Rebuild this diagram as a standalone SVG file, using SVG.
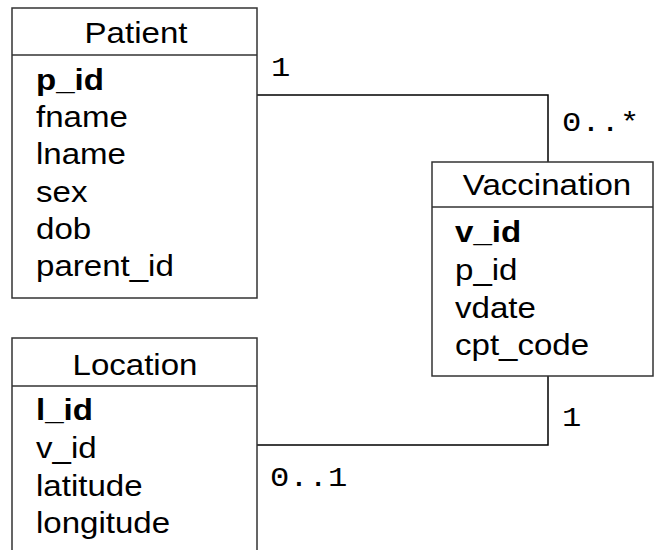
<svg xmlns="http://www.w3.org/2000/svg" width="655" height="550" viewBox="0 0 655 550">
  <style>
    .box { fill: #ffffff; stroke: #333333; stroke-width: 1.5; }
    .sep { stroke: #333333; stroke-width: 1.5; }
    .title { font-family: "Liberation Sans", Arial, sans-serif; font-size: 29px; fill: #000; text-anchor: middle; }
    .attr { font-family: "Liberation Sans", Arial, sans-serif; font-size: 29px; fill: #000; }
    .key { font-weight: bold; }
    .link { fill: none; stroke: #000000; stroke-width: 1.5; }
    .mult { font-family: "Liberation Mono", "Courier New", monospace; font-size: 28px; fill: #000; }
  </style>
  <rect width="655" height="550" fill="#ffffff"/>

  <!-- associations -->
  <g id="connectors">
    <polyline class="link" points="257,95 548,95 548,162"/>
    <polyline class="link" points="548,376 548,445 257,445"/>
    <text class="mult" transform="translate(271,76) scale(1.15,1)">1</text>
    <text class="mult" transform="translate(562,131) scale(1.15,1)">0..*</text>
    <text class="mult" transform="translate(562,426) scale(1.15,1)">1</text>
    <text class="mult" transform="translate(270,486) scale(1.15,1)">0..1</text>
  </g>

  <!-- Patient table -->
  <g id="patient">
    <rect class="box" x="12" y="8" width="245" height="290"/>
    <line class="sep" x1="12" y1="55" x2="257" y2="55"/>
    <text class="title" transform="translate(136,43) scale(1.14,1)">Patient</text>
    <text class="attr key" transform="translate(36,90) scale(1.14,1)">p_id</text>
    <text class="attr" transform="translate(36,127) scale(1.14,1)">fname</text>
    <text class="attr" transform="translate(36,164) scale(1.14,1)">lname</text>
    <text class="attr" transform="translate(36,202) scale(1.14,1)">sex</text>
    <text class="attr" transform="translate(36,239) scale(1.14,1)">dob</text>
    <text class="attr" transform="translate(36,276) scale(1.14,1)">parent_id</text>
  </g>

  <!-- Vaccination table -->
  <g id="vaccination">
    <rect class="box" x="432" y="162" width="221" height="214"/>
    <line class="sep" x1="432" y1="207" x2="653" y2="207"/>
    <text class="title" transform="translate(547,195) scale(1.14,1)">Vaccination</text>
    <text class="attr key" transform="translate(455,242) scale(1.14,1)">v_id</text>
    <text class="attr" transform="translate(455,280) scale(1.14,1)">p_id</text>
    <text class="attr" transform="translate(455,318) scale(1.14,1)">vdate</text>
    <text class="attr" transform="translate(455,355) scale(1.14,1)">cpt_code</text>
  </g>

  <!-- Location table -->
  <g id="location">
    <rect class="box" x="12" y="338" width="245" height="230"/>
    <line class="sep" x1="12" y1="386" x2="257" y2="386"/>
    <text class="title" transform="translate(135,375) scale(1.14,1)">Location</text>
    <text class="attr key" transform="translate(36,420) scale(1.14,1)">l_id</text>
    <text class="attr" transform="translate(36,458) scale(1.14,1)">v_id</text>
    <text class="attr" transform="translate(36,496) scale(1.14,1)">latitude</text>
    <text class="attr" transform="translate(36,533) scale(1.14,1)">longitude</text>
  </g>
</svg>
